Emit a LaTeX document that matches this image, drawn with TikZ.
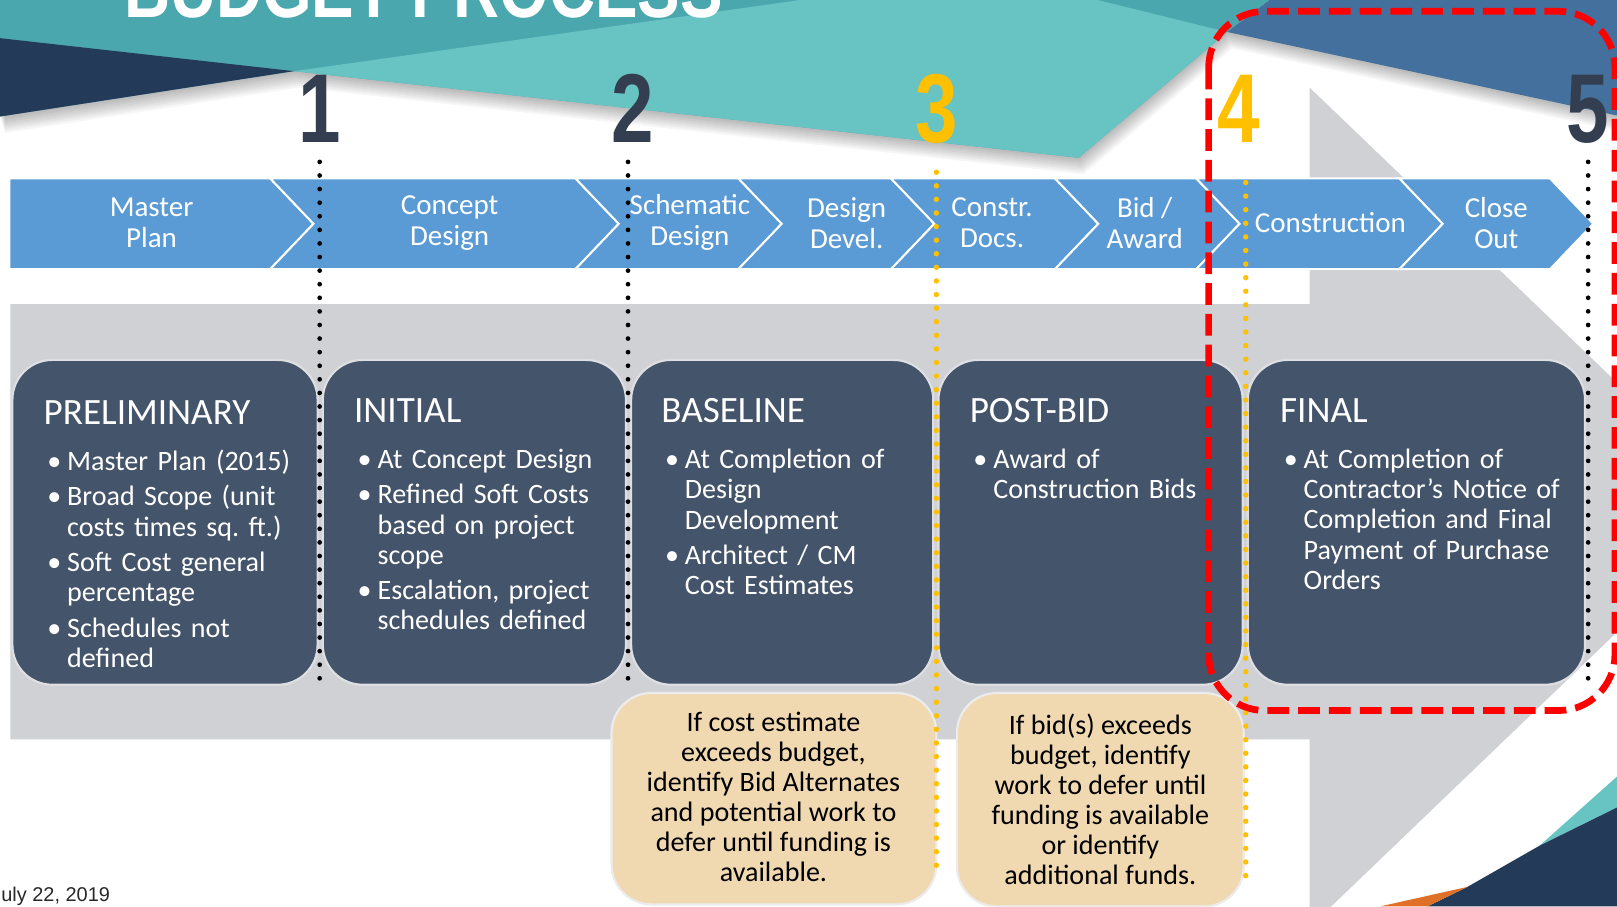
\documentclass[tikz,border=0pt]{standalone}
\usepackage{fontspec}
\setmainfont{Carlito}
\newfontfamily\arialfont{Liberation Sans}
\usetikzlibrary{positioning}

\definecolor{tealdark}{RGB}{74,167,173}
\definecolor{teallight}{RGB}{103,196,195}
\definecolor{navyleft}{RGB}{36,58,89}
\definecolor{navyright}{RGB}{68,112,157}
\definecolor{chevblue}{RGB}{91,155,213}
\definecolor{slate}{RGB}{68,84,106}
\definecolor{boxrim}{RGB}{222,223,226}
\definecolor{numdark}{RGB}{51,63,80}
\definecolor{gold}{RGB}{255,192,0}
\definecolor{arrowgray}{RGB}{208,209,213}
\definecolor{tan}{RGB}{240,217,177}
\definecolor{tanrim}{RGB}{236,236,236}
\definecolor{rust}{RGB}{224,112,40}
\definecolor{datecol}{RGB}{40,40,40}

\newcommand{\bul}[1]{\par\vspace{2.8pt}\hangindent=13pt\hangafter=1\noindent
  \hbox to 13pt{\hspace{2pt}\textbullet\hfil}#1\par}
\newcommand{\stagehead}[1]{{\fontsize{20.5}{24}\selectfont #1\par}\vspace{6pt}}

\begin{document}
\frenchspacing
\begin{tikzpicture}[x=0.02cm,y=-0.02cm,
  chev/.style={fill=chevblue,draw=white,line width=1.1pt},
  chevlbl/.style={text=white,align=center,inner sep=0pt,font=\fontsize{16}{17}\selectfont},
  stage/.style={fill=slate,draw=boxrim,line width=1.2pt,rounded corners=22pt},
  stagetxt/.style={anchor=north west,inner sep=0pt,text width=7cm,text=white,
    font=\fontsize{15.5}{16.7}\selectfont\frenchspacing},
  note/.style={fill=tan,draw=tanrim,line width=1.2pt,rounded corners=22pt},
  notetxt/.style={align=center,inner sep=0pt,font=\fontsize{15.5}{16.6}\selectfont},
  bigno/.style={anchor=base,inner sep=0pt,font=\arialfont\bfseries\fontsize{54}{54}\selectfont},
  dotblk/.style={line width=2.6pt,line cap=round,dash pattern=on 0pt off 7.5pt},
  dotyel/.style={dotblk,draw=gold,line width=3pt}]
	\useasboundingbox (0,0) rectangle (1568,879);
	\clip (0,0) rectangle (1568,879);
	\fill[white] (0,0) rectangle (1568,879);
	% big grey arrow behind the boxes
	\fill[arrowgray] (10,295) -- (1270,295) -- (1270,85) -- (1694,492) -- (1270,899) -- (1270,717) -- (10,717) -- cycle;
	% banner with its soft shadow
	\foreach \s in {2,4,...,16}
		\fill[black,opacity=0.035,shift={(\s*0.3,\s)}] (0,113) -- (285,69) -- (1046,153) -- (1190,31) -- (1568,112) -- (1568,0) -- (0,0) -- cycle;
	\fill[tealdark] (0,0) -- (1231,0) -- (1190,31) -- (1046,153) -- (285,69) -- (0,113) -- cycle;
	\fill[navyleft] (0,37) -- (285,69) -- (0,113) -- cycle;
	\fill[teallight] (285,69) -- (776,0) -- (1064,0) -- (1190,31) -- (1046,153) -- cycle;
	\fill[navyright] (1231,0) -- (1568,0) -- (1568,112) -- (1190,31) -- cycle;
	\node[anchor=base west,inner sep=0pt,text=white,font=\arialfont\bfseries\fontsize{44}{44}\selectfont] (title) at (120,17) {\scalebox{0.8}[1]{BUDGET PROCESS}};
	% corner flashes
	\fill[teallight] (1568,753) -- (1568,783) -- (1493,820) -- cycle;
	\fill[navyleft] (1568,783) -- (1493,820) -- (1423,860) -- (1384,879) -- (1568,879) -- cycle;
	\fill[rust] (1423,860) -- (1338,879) -- (1384,879) -- cycle;
	% phase chevrons
	\draw[chev] (9,173) -- (262,173) -- (304,217) -- (262,261) -- (9,261) -- cycle;
	\foreach \a/\b in {262/558,558/716,716/864,864/1023,1023/1160,1160/1357,1357/1503}
		\draw[chev] (\a,173) -- (\b,173) -- (\b+42,217) -- (\b,261) -- (\a,261) -- (\a+42,217) -- cycle;
	\node[chevlbl] (mp) at (147,216) {Master\\Plan};
	\node[chevlbl] (cd) at (436,216) {Concept\\Design};
	\node[chevlbl] (sd) at (669,216) {Schematic\\Design};
	\node[chevlbl] (dd) at (821,216) {Design\\Devel.};
	\node[chevlbl] (docs) at (962,216) {Constr.\\Docs.};
	\node[chevlbl] (bid) at (1110,216) {Bid /\\Award};
	\node[chevlbl] (cons) at (1290,216) {Construction};
	\node[chevlbl] (close) at (1451,216) {Close\\Out};
	% estimate boxes
	\foreach \l/\r in {12/308,313/607,612/905,910/1205,1210/1537}
		\draw[stage] (\l,349) rectangle (\r,664);
	\node[stagetxt] (prelim) at (42,388) {\stagehead{PRELIMINARY}
		\bul{Master Plan (2015)}
		\bul{Broad Scope (unit\newline costs times sq. ft.)}
		\bul{Soft Cost general\newline percentage}
		\bul{Schedules not\newline defined}};
	\node[stagetxt] (initial) at (343,386) {\stagehead{INITIAL}
		\bul{At Concept Design}
		\bul{Refined Soft Costs\newline based on project\newline scope}
		\bul{Escalation, project\newline schedules defined}};
	\node[stagetxt] (baseline) at (641,386) {\stagehead{BASELINE}
		\bul{At Completion of\newline Design\newline Development}
		\bul{Architect / CM\newline Cost Estimates}};
	\node[stagetxt] (postbid) at (940,386) {\stagehead{POST-BID}
		\bul{Award of\newline Construction Bids}};
	\node[stagetxt] (final) at (1241,386) {\stagehead{FINAL}
		\bul{At Completion of\newline Contractor’s Notice of\newline Completion and Final\newline Payment of Purchase\newline Orders}};
	% notes under the boxes
	\draw[note] (593,672) rectangle (908,877);
	\draw[note] (928,672) rectangle (1206,879);
	\node[notetxt] (costnote) at (750,773) {If cost estimate\\exceeds budget,\\identify Bid Alternates\\and potential work to\\defer until funding is\\available.};
	\node[notetxt] (bidnote) at (1067,775) {If bid(s) exceeds\\budget, identify\\work to defer until\\funding is available\\or identify\\additional funds.};
	% milestone lines
	\draw[dotblk] (310,157) -- (310,663);
	\draw[dotblk] (609,157) -- (609,663);
	\draw[dotyel] (908,167) -- (908,848);
	\draw[dotyel] (1208,177) -- (1208,852);
	\draw[dotblk] (1540,157) -- (1540,663);
	\draw[red,line width=3.7pt,dash pattern=on 12pt off 5pt,rounded corners=31pt] (1172,11) rectangle (1566,689);
	\node[bigno,text=numdark] (n1) at (310,138) {\scalebox{0.78}[1]{1}};
	\node[bigno,text=numdark] (n2) at (614,138) {\scalebox{0.78}[1]{2}};
	\node[bigno,text=gold] (n3) at (908,138) {\scalebox{0.78}[1]{3}};
	\node[bigno,text=gold] (n4) at (1201,138) {\scalebox{0.78}[1]{4}};
	\node[bigno,text=numdark] (n5) at (1540,138) {\scalebox{0.78}[1]{5}};
	\node[anchor=base east,inner sep=0pt,text=datecol,font=\arialfont\fontsize{11}{11}\selectfont] (date) at (107,874) {July 22, 2019};
\end{tikzpicture}
\end{document}
